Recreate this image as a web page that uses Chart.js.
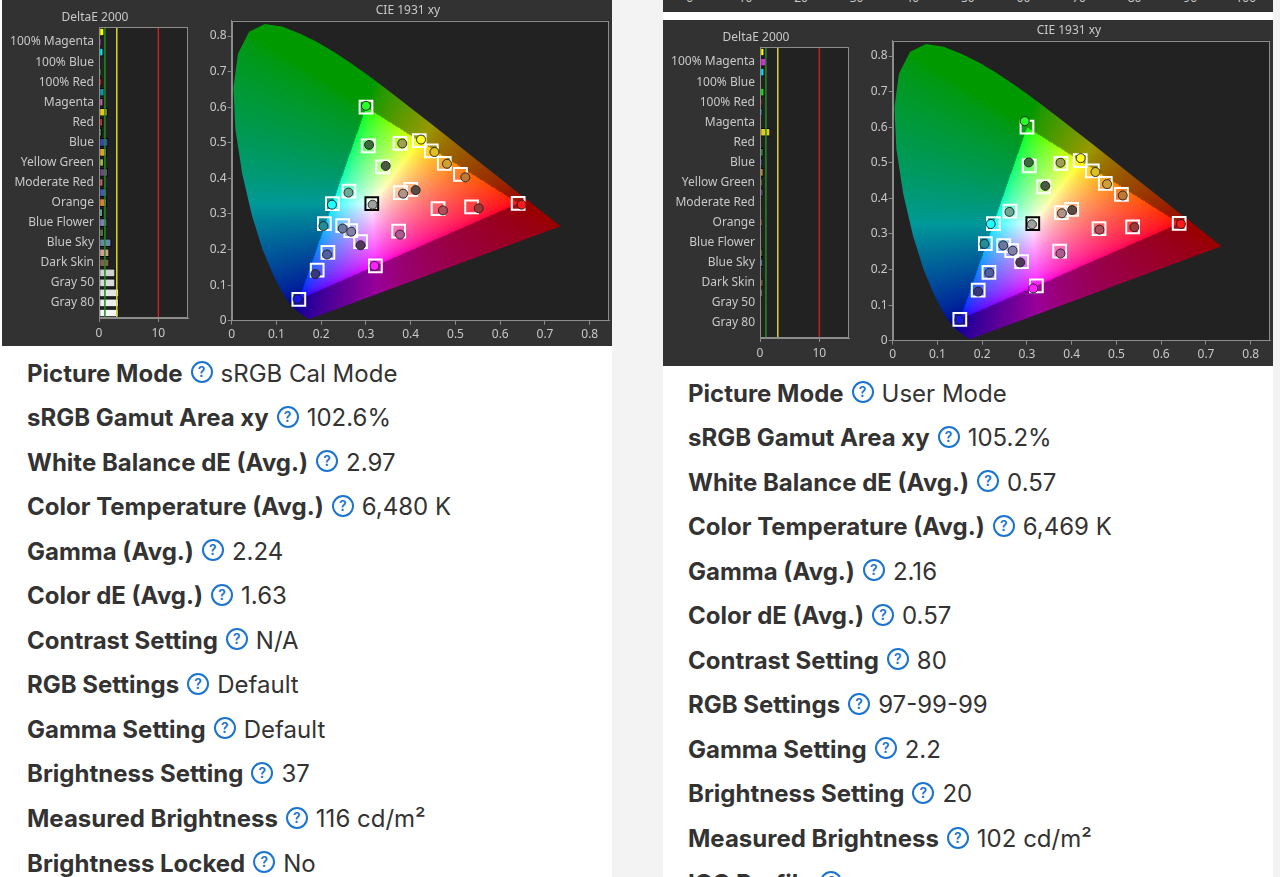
<!DOCTYPE html>
<html>
<head>
<meta charset="utf-8">
<script src="https://cdn.jsdelivr.net/npm/chart.js@4.4.1/dist/chart.umd.min.js"></script>
<style>
html, body { margin: 0; padding: 0; }
body { width: 1280px; height: 877px; overflow: hidden; position: relative; background: #f3f3f3; font-family: "Inter", sans-serif; }
.card { position: absolute; top: 0; height: 877px; background: #fff; }
.shot { position: absolute; width: 610px; height: 346px; background: #323232; overflow: hidden; }
.shot canvas { position: absolute; top: 0; }
.strip { position: absolute; left: 0; top: 0; width: 610px; height: 12px; background: #323232; overflow: hidden; }
.strip span { position: absolute; top: -11px; font: 12px "Noto Sans"; color: #c8c8c8; transform: translateX(-50%); }
.row { position: absolute; display: flex; align-items: center; white-space: nowrap; font-size: 24px; color: #333; height: 30px; }
.row b { font-weight: 700; }
.q { display: inline-block; box-sizing: border-box; width: 22px; height: 22px; border: 2px solid #1b74d0; border-radius: 50%; color: #1b74d0; font-size: 14px; line-height: 18px; text-align: center; font-weight: 600; margin: 0 8px; position: relative; top: -1px; }
</style>
</head>
<body>
<div class="card" id="cardL" style="left:0;width:612px"></div>
<div class="card" id="cardR" style="left:663px;width:610px"></div>
<script>
// DeltaE 2000 bars
const deNames = ['100% Yellow', '100% Magenta', '100% Cyan', '100% Blue', '100% Green', '100% Red',
  'Cyan', 'Magenta', 'Yellow', 'Red', 'Green', 'Blue', 'Orange Yellow', 'Yellow Green', 'Purple',
  'Moderate Red', 'Purplish Blue', 'Orange', 'Bluish Green', 'Blue Flower', 'Foliage', 'Blue Sky',
  'Light Skin', 'Dark Skin', 'Gray 35', 'Gray 50', 'Gray 65', 'Gray 80', 'White'];
const deColors = ['#ffff00', '#d030d0', '#00e8ff', '#2020ff', '#20e020', '#e02020',
  '#1890a8', '#c060a0', '#e8c820', '#c03838', '#409a48', '#3848a8', '#e0a030', '#98b848', '#704880',
  '#c86068', '#4858b0', '#d88030', '#68b8a8', '#8080b8', '#587048', '#6888a8',
  '#d0a090', '#806050', '#d0d0d0', '#dadada', '#e4e4e4', '#eeeeee', '#f6f6f6'];
const deLeft = [0.85, 0.35, 0.7, 0.15, 0.3, 0.5, 0.9, 0.7, 1.4, 0.65, 0.45, 1.55, 1.3, 0.8, 1.5,
  0.7, 1.35, 1.3, 0.6, 1.35, 0.8, 2.05, 1.7, 1.7, 2.7, 2.7, 3.35, 3.3, 3.25];
const deRight = [0.7, 1.1, 0.7, 0.05, 0.7, 0.3, 0.35, 0.05, 1.7, 0.1, 0.55, 0.35, 0.55, 0.3, 0.55,
  0.15, 0.05, 0.3, 0.1, 0.05, 0.5, 0.5, 0.15, 0.55, 0.3, 0.1, 0.1, 0.1, 0.1];
const deTicks = [0, 10];
const deLimits = [1, 3, 10];
const deLimitColors = ['#1e8c1e', '#d8d820', '#c82020'];

// CIE 1931 xy points
const cieNames = ['100% Red', '100% Green', '100% Blue', '100% Cyan', '100% Magenta', '100% Yellow', 'White',
  'Dark Skin', 'Light Skin', 'Blue Sky', 'Foliage', 'Blue Flower', 'Bluish Green', 'Orange', 'Purplish Blue',
  'Moderate Red', 'Purple', 'Yellow Green', 'Orange Yellow', 'Blue', 'Green', 'Red', 'Yellow', 'Magenta', 'Cyan'];
const targetX = [0.640, 0.300, 0.150, 0.225, 0.321, 0.419, 0.313, 0.400, 0.377, 0.248, 0.337, 0.266, 0.262,
  0.511, 0.215, 0.461, 0.288, 0.376, 0.475, 0.191, 0.305, 0.536, 0.446, 0.373, 0.207];
const targetY = [0.330, 0.600, 0.060, 0.329, 0.154, 0.506, 0.329, 0.369, 0.360, 0.267, 0.432, 0.253, 0.364,
  0.411, 0.192, 0.315, 0.222, 0.498, 0.442, 0.142, 0.491, 0.320, 0.477, 0.252, 0.273];
const measLeftX = [0.648, 0.300, 0.147, 0.224, 0.319, 0.423, 0.315, 0.411, 0.383, 0.248, 0.344, 0.267, 0.261,
  0.522, 0.213, 0.472, 0.288, 0.381, 0.481, 0.187, 0.307, 0.552, 0.453, 0.376, 0.205];
const measLeftY = [0.326, 0.604, 0.061, 0.326, 0.154, 0.509, 0.326, 0.367, 0.357, 0.259, 0.435, 0.250, 0.360,
  0.403, 0.186, 0.310, 0.212, 0.498, 0.441, 0.131, 0.494, 0.316, 0.474, 0.242, 0.266];
const measRightX = [0.644, 0.295, 0.149, 0.219, 0.314, 0.420, 0.311, 0.401, 0.378, 0.247, 0.341, 0.268, 0.261,
  0.514, 0.216, 0.462, 0.285, 0.375, 0.479, 0.191, 0.304, 0.540, 0.453, 0.375, 0.205];
const measRightY = [0.328, 0.617, 0.059, 0.328, 0.147, 0.513, 0.327, 0.367, 0.358, 0.268, 0.435, 0.253, 0.362,
  0.408, 0.191, 0.312, 0.220, 0.500, 0.440, 0.138, 0.501, 0.319, 0.474, 0.245, 0.272];
const measColors = ['#ff1818', '#28ff28', '#1818e0', '#20ffff', '#ff20ff', '#ffff20', '#a0a0a0',
  '#5a4a44', '#b09488', '#6878a0', '#4a5a40', '#8080a8', '#70a898', '#c07830', '#5060a0',
  '#b05058', '#503858', '#a0a050', '#d0a030', '#383a80', '#3a6a3a', '#a03838', '#e0c020', '#b05890', '#209098'];
const cieTicks = [0, 0.1, 0.2, 0.3, 0.4, 0.5, 0.6, 0.7, 0.8];

// spectral locus, 380-700 nm
const locusX = [0.1741, 0.1733, 0.1714, 0.1689, 0.1644, 0.1566, 0.1440, 0.1355, 0.1241, 0.1096, 0.0913,
  0.0687, 0.0454, 0.0235, 0.0082, 0.0039, 0.0139, 0.0389, 0.0743, 0.1142, 0.1547, 0.1929, 0.2296, 0.2658,
  0.3016, 0.3373, 0.3731, 0.4087, 0.4441, 0.4788, 0.5125, 0.5448, 0.5752, 0.6029, 0.6270, 0.6482, 0.6658,
  0.6915, 0.7079, 0.7190, 0.7260, 0.7300, 0.7334, 0.7347];
const locusY = [0.0050, 0.0048, 0.0051, 0.0069, 0.0109, 0.0177, 0.0297, 0.0399, 0.0578, 0.0868, 0.1327,
  0.2007, 0.2950, 0.4127, 0.5384, 0.6548, 0.7502, 0.8120, 0.8338, 0.8262, 0.8059, 0.7816, 0.7543, 0.7243,
  0.6923, 0.6589, 0.6245, 0.5896, 0.5547, 0.5202, 0.4866, 0.4544, 0.4242, 0.3965, 0.3725, 0.3514, 0.3340,
  0.3083, 0.2920, 0.2809, 0.2740, 0.2700, 0.2666, 0.2653];

// settings text
const rowLabels = ['Picture Mode', 'sRGB Gamut Area xy', 'White Balance dE (Avg.)', 'Color Temperature (Avg.)',
  'Gamma (Avg.)', 'Color dE (Avg.)', 'Contrast Setting', 'RGB Settings', 'Gamma Setting',
  'Brightness Setting', 'Measured Brightness'];
const rowLeft = ['sRGB Cal Mode', '102.6%', '2.97', '6,480 K', '2.24', '1.63', 'N/A', 'Default', 'Default', '37', '116 cd/m²'];
const rowRight = ['User Mode', '105.2%', '0.57', '6,469 K', '2.16', '0.57', '80', '97-99-99', '2.2', '20', '102 cd/m²'];
const topTicks = [0, 10, 20, 30, 40, 50, 60, 70, 80, 90, 100];

Chart.defaults.font.family = 'Noto Sans';
Chart.defaults.font.size = 12;
Chart.defaults.color = '#c8c8c8';
Chart.defaults.animation = false;

const tickColor = '#c8c8c8';
const lineColor = '#8c8c8c';

const framePlugin = {
  id: 'frame',
  beforeDraw(chart) {
    const a = chart.chartArea, ctx = chart.ctx;
    ctx.save();
    ctx.fillStyle = '#222222';
    ctx.fillRect(a.left, a.top, a.right - a.left, a.bottom - a.top);
    ctx.restore();
  },
  afterDraw(chart) {
    const a = chart.chartArea, ctx = chart.ctx;
    ctx.save();
    ctx.strokeStyle = lineColor;
    ctx.lineWidth = 1;
    ctx.strokeRect(Math.round(a.left) + 0.5, Math.round(a.top) + 0.5,
      Math.round(a.right - a.left) - 1, Math.round(a.bottom - a.top) - 1);
    ctx.restore();
  }
};

const limitPlugin = {
  id: 'limits',
  afterDatasetsDraw(chart) {
    const a = chart.chartArea, ctx = chart.ctx, xs = chart.scales.x;
    ctx.save();
    ctx.lineWidth = 1.5;
    deLimits.forEach((v, i) => {
      const px = xs.getPixelForValue(v);
      ctx.strokeStyle = deLimitColors[i];
      ctx.beginPath();
      ctx.moveTo(px, a.top);
      ctx.lineTo(px, a.bottom);
      ctx.stroke();
    });
    ctx.restore();
  }
};

function xyToRgb(x, y) {
  if (y < 0.002) y = 0.002;
  const X = x / y, Z = (1 - x - y) / y;
  let r = 3.2406 * X - 1.5372 - 0.4986 * Z;
  let g = -0.9689 * X + 1.8758 + 0.0415 * Z;
  let b = 0.0557 * X - 0.2040 + 1.0570 * Z;
  const inside = r >= 0 && g >= 0 && b >= 0;
  r = Math.max(r, 0); g = Math.max(g, 0); b = Math.max(b, 0);
  const m = Math.max(r, g, b) || 1;
  const f = inside ? 1 : 0.6;
  return [r, g, b].map(c => Math.round(255 * f * Math.pow(c / m, 0.62)));
}

function gamutImage(chart) {
  const a = chart.chartArea, xs = chart.scales.x, ys = chart.scales.y;
  const dpr = chart.currentDevicePixelRatio || 1;
  const w = Math.round((a.right - a.left) * dpr), h = Math.round((a.bottom - a.top) * dpr);
  const off = document.createElement('canvas');
  off.width = w; off.height = h;
  const octx = off.getContext('2d');
  const img = octx.createImageData(w, h);
  for (let j = 0; j < h; j++) {
    const cy = ys.getValueForPixel(a.top + (j + 0.5) / dpr);
    for (let i = 0; i < w; i++) {
      const cx = xs.getValueForPixel(a.left + (i + 0.5) / dpr);
      const c = xyToRgb(cx, cy);
      const k = (j * w + i) * 4;
      img.data[k] = c[0]; img.data[k + 1] = c[1]; img.data[k + 2] = c[2]; img.data[k + 3] = 255;
    }
  }
  octx.putImageData(img, 0, 0);
  return off;
}

const gamutPlugin = {
  id: 'gamut',
  beforeDatasetsDraw(chart) {
    const a = chart.chartArea, ctx = chart.ctx, xs = chart.scales.x, ys = chart.scales.y;
    if (!chart.$gamut) chart.$gamut = gamutImage(chart);
    ctx.save();
    ctx.beginPath();
    locusX.forEach((x, i) => {
      const px = xs.getPixelForValue(x), py = ys.getPixelForValue(locusY[i]);
      if (i) ctx.lineTo(px, py); else ctx.moveTo(px, py);
    });
    ctx.closePath();
    ctx.clip();
    ctx.drawImage(chart.$gamut, a.left, a.top, a.right - a.left, a.bottom - a.top);
    ctx.restore();
  }
};

function fmt(v) {
  return v === 0 ? '0' : String(Math.round(v * 10) / 10);
}

function addCanvas(parent, left, width) {
  const c = document.createElement('canvas');
  c.width = width; c.height = 346;
  c.style.left = left + 'px';
  c.style.width = width + 'px';
  c.style.height = '346px';
  parent.appendChild(c);
  return c;
}

function makeDeltaE(canvas, values) {
  return new Chart(canvas, {
    type: 'bar',
    data: {
      labels: deNames,
      datasets: [{
        data: values,
        backgroundColor: deColors,
        borderColor: '#000',
        borderWidth: 1,
        borderSkipped: false,
        barThickness: 8
      }]
    },
    options: {
      indexAxis: 'y',
      responsive: false,
      layout: { padding: { right: 8 } },
      plugins: {
        legend: { display: false },
        tooltip: { enabled: false },
        title: { display: true, text: 'DeltaE 2000', color: tickColor, font: { size: 12, weight: 'normal' }, padding: { top: 10, bottom: 2.6 } }
      },
      scales: {
        x: {
          type: 'linear', min: 0, max: 15,
          afterBuildTicks: s => { s.ticks = deTicks.map(v => ({ value: v })); },
          afterFit: s => { s.height = 28; },
          ticks: { color: tickColor, padding: 4, maxRotation: 0, callback: v => String(v) },
          grid: { drawOnChartArea: false, color: lineColor, tickLength: 4 },
          border: { color: lineColor }
        },
        y: {
          afterFit: s => { s.width = 97; },
          ticks: { color: tickColor, padding: 5, autoSkip: false, callback: (v, i) => (i % 2 === 1 ? deNames[i] : '') },
          grid: { display: false, drawTicks: false },
          border: { color: lineColor }
        }
      }
    },
    plugins: [framePlugin, limitPlugin]
  });
}

function makeCie(canvas, mx, my) {
  return new Chart(canvas, {
    type: 'scatter',
    data: {
      datasets: [{
        label: 'Measured',
        order: 0,
        data: mx.map((x, i) => ({ x: x, y: my[i] })),
        pointStyle: 'circle',
        pointRadius: 4.5,
        backgroundColor: measColors,
        borderColor: 'rgba(30,30,30,0.9)',
        borderWidth: 1
      }, {
        label: 'Target',
        order: 1,
        data: targetX.map((x, i) => ({ x: x, y: targetY[i] })),
        pointStyle: 'rect',
        pointRadius: 9,
        backgroundColor: 'rgba(255,255,255,0.06)',
        borderColor: cieNames.map(n => (n === 'White' ? '#000' : '#fff')),
        borderWidth: 2
      }]
    },
    options: {
      responsive: false,
      plugins: {
        legend: { display: false },
        tooltip: { enabled: false },
        title: { display: true, text: 'CIE 1931 xy', color: tickColor, font: { size: 12, weight: 'normal' }, padding: { top: 3, bottom: 3.3 } }
      },
      scales: {
        x: {
          type: 'linear', min: 0, max: 0.843,
          afterBuildTicks: s => { s.ticks = cieTicks.map(v => ({ value: v })); },
          afterFit: s => { s.height = 25.3; },
          ticks: { color: tickColor, padding: 3, maxRotation: 0, autoSkip: false, callback: fmt },
          grid: { drawOnChartArea: false, color: lineColor, tickLength: 4 },
          border: { color: lineColor }
        },
        y: {
          type: 'linear', min: 0, max: 0.843,
          afterBuildTicks: s => { s.ticks = cieTicks.map(v => ({ value: v })); },
          afterFit: s => { s.width = 35.7; },
          ticks: { color: tickColor, padding: 1, autoSkip: false, callback: fmt },
          grid: { drawOnChartArea: false, color: lineColor, tickLength: 4 },
          border: { color: lineColor }
        }
      }
    },
    plugins: [framePlugin, gamutPlugin]
  });
}

function addRows(card, left, top, labels, values) {
  labels.forEach((lab, i) => {
    const r = document.createElement('div');
    r.className = 'row';
    r.style.left = left + 'px';
    r.style.top = (top + i * 44.55) + 'px';
    r.innerHTML = '<b>' + lab + '</b><span class="q">?</span><span>' + (values[i] || '') + '</span>';
    card.appendChild(r);
  });
}

function makePanel(card, shotLeft, shotTop, deValues, mx, my) {
  const shot = document.createElement('div');
  shot.className = 'shot';
  shot.style.left = shotLeft + 'px';
  shot.style.top = shotTop + 'px';
  card.appendChild(shot);
  makeDeltaE(addCanvas(shot, 0, 194), deValues);
  // the x axis keeps ~11px on its right for the last label, so the canvas runs past the frame
  makeCie(addCanvas(shot, 194, 424), mx, my);
}

const cardL = document.getElementById('cardL');
const cardR = document.getElementById('cardR');

makePanel(cardL, 2, 0, deLeft, measLeftX, measLeftY);
makePanel(cardR, 0, 20, deRight, measRightX, measRightY);

// strip of the chart above the right panel
const strip = document.createElement('div');
strip.className = 'strip';
topTicks.forEach((t, i) => {
  const s = document.createElement('span');
  s.style.left = (26.8 + i * 55.6) + 'px';
  s.textContent = t;
  strip.appendChild(s);
});
cardR.appendChild(strip);

addRows(cardL, 27, 358, rowLabels.concat(['Brightness Locked']), rowLeft.concat(['No']));
addRows(cardR, 25, 378, rowLabels.concat(['ICC Profile']), rowRight.concat(['']));
</script>
</body>
</html>
